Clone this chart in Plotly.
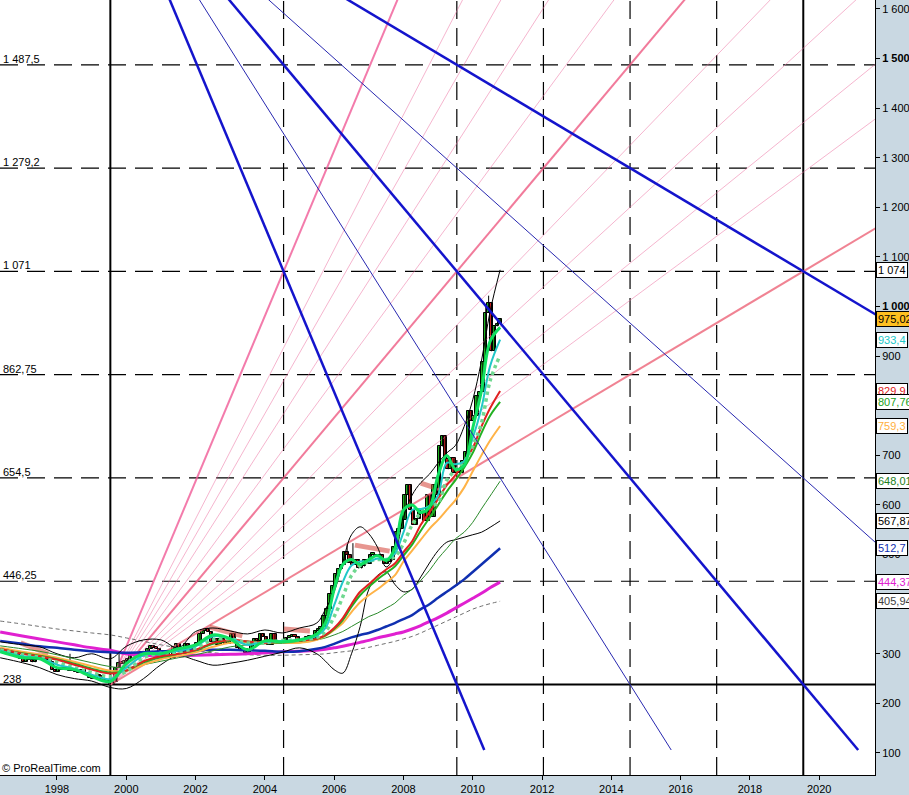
import plotly.graph_objects as go

# ---------------- data ----------------
START_YEAR, START_MONTH = 1996, 5
FIRST_OPEN = 308
CLOSES = [
    306, 302, 304, 300, 298, 300, 296, 290,
    284, 292, 288, 283, 288, 292, 296, 290, 288, 284, 268, 264,
    272, 268, 270, 268, 266, 270, 264, 262, 268, 262, 258, 252,
    250, 254, 256, 250, 246, 244, 240, 244, 272, 282, 280, 286,
    290, 302, 296, 300, 298, 304, 300, 310, 316, 312, 310, 294,
    298, 300, 294, 292, 314, 320, 312, 300, 320, 316, 310, 316,
    322, 340, 346, 350, 344, 324, 330, 318, 330, 322, 320, 328,
    340, 326, 312, 306, 310, 302, 308, 324, 330, 326, 340, 334,
    322, 318, 340, 324, 320, 322, 322, 332, 334, 336, 334, 322,
    326, 330, 330, 336, 328, 345, 350, 354, 376, 390, 420, 436,
    460, 470, 480, 505, 500, 484, 480, 490, 472, 476, 490, 482,
    500, 500, 496, 500, 490, 482, 486, 490, 516, 545, 552, 570,
    620, 640, 590, 560, 572, 592, 588, 568, 620, 576, 640, 620,
    718, 740, 692, 672, 694, 664, 670, 664, 688, 706, 790, 770,
    780, 820, 828, 888, 988, 1008, 910, 960, 965, 975.02,
]
# a few visible wick extremes (month index -> value)
WICK_HIGH = {24: 300, 41: 300, 120: 520, 122: 523, 153: 650, 165: 765, 169: 1022, 168: 1000}
WICK_LOW = {38: 238}

MA_T = [1996.36, 1997.0, 1997.5, 1998.0, 1998.5, 1999.0, 1999.54, 2000.0, 2000.5, 2001.0,
        2001.5, 2002.0, 2002.5, 2003.0, 2003.5, 2004.0, 2004.5, 2005.0, 2005.5, 2005.75,
        2006.0, 2006.25, 2006.5, 2006.75, 2007.0, 2007.25, 2007.5, 2007.75, 2008.0, 2008.25,
        2008.5, 2008.75, 2009.0, 2009.25, 2009.5, 2009.75, 2010.0, 2010.25, 2010.5, 2010.79]

MA_FAST = [304, 292, 290, 272, 268, 254, 244, 280, 300, 300, 310, 318, 338, 330, 308, 326, 324, 328, 340, 362,
           430, 480, 490, 480, 490, 498, 488, 512, 590, 600, 585, 595, 660, 700, 672, 680, 755, 830, 930, 958]
MA_CYAN = [306, 295, 291, 278, 270, 258, 249, 272, 297, 302, 306, 315, 335, 331, 318, 324, 326, 328, 336, 352,
           398, 445, 478, 486, 486, 492, 490, 502, 545, 590, 592, 598, 620, 685, 682, 688, 735, 795, 880, 933.4]
MA_DOTS = [308, 298, 293, 283, 272, 262, 254, 264, 292, 301, 304, 312, 328, 330, 322, 322, 327, 328, 333, 345,
           375, 415, 458, 478, 486, 490, 490, 496, 522, 560, 584, 596, 605, 650, 670, 686, 720, 765, 850, 902]
MA_RED = [310, 300, 295, 288, 278, 268, 260, 266, 285, 295, 300, 308, 322, 328, 325, 322, 325, 327, 330, 338,
          352, 372, 400, 425, 440, 456, 470, 482, 505, 527, 560, 585, 612, 640, 660, 688, 715, 758, 795, 829.9]
MA_GREEN = [309, 301, 296, 289, 280, 270, 262, 266, 283, 293, 300, 307, 320, 327, 325, 323, 324, 326, 330, 337,
            350, 368, 395, 418, 435, 450, 463, 476, 498, 520, 548, 574, 600, 627, 650, 675, 705, 745, 780, 807.76]
MA_ORANGE = [312, 304, 299, 292, 284, 275, 266, 266, 278, 289, 296, 303, 314, 322, 323, 322, 323, 322, 328, 336,
             348, 362, 384, 404, 418, 430, 444, 458, 486, 508, 530, 552, 570, 590, 610, 635, 668, 700, 730, 759.3]
MA_THIN = [316, 310, 305, 298, 290, 282, 274, 272, 278, 285, 292, 298, 306, 314, 318, 320, 321, 322, 328, 332,
           338, 345, 355, 365, 375, 382, 392, 402, 418, 430, 448, 468, 492, 512, 532, 545, 565, 592, 618, 648.01]
MA_BLUE = [326, 320, 315, 312, 308, 305, 303, 302, 303, 305, 306, 307, 308, 308, 307, 306, 304, 305, 310, 314,
           320, 327, 333, 338, 342, 348, 355, 362, 370, 378, 390, 400, 413, 425, 437, 450, 465, 480, 495, 512.7]
MA_MAGENTA = [344, 336, 330, 324, 318, 312, 307, 300, 297, 296, 296, 297, 298, 299, 300, 302, 304, 305, 307, 309,
              312, 315, 319, 323, 327, 332, 336, 340, 344, 350, 357, 365, 373, 382, 392, 402, 412, 422, 433, 444.37]
MA_GREY = [366, 360, 355, 350, 346, 342, 338, 332, 325, 318, 312, 306, 302, 300, 298, 297, 297, 298, 299, 300,
           302, 304, 306, 310, 313, 317, 321, 325, 330, 335, 342, 350, 358, 366, 374, 382, 390, 396, 401, 405.94]
BAND_UP = [324, 318, 314, 300, 292, 300, 290, 315, 328, 328, 312, 345, 352, 346, 340, 348, 342, 352, 362, 390,
           425, 485, 540, 556, 542, 515, 475, 500, 575, 620, 645, 662, 685, 705, 720, 758, 812, 890, 990, 1074]
BAND_LO = [292, 282, 272, 258, 250, 245, 232, 230, 250, 278, 296, 287, 277, 281, 287, 295, 303, 312, 300, 285,
           268, 261, 300, 355, 430, 458, 465, 440, 425, 430, 455, 483, 508, 525, 530, 535, 540, 545, 555, 567.87]

SEG_T0 = [1996.95, 2002.4, 2004.55, 2006.6, 2008.5]
SEG_T1 = [1997.75, 2003.35, 2005.3, 2007.6, 2008.85]
SEG_V0 = [322, 354, 350, 519, 644]
SEG_V1 = [300, 336, 346, 507, 636]

# Gann construction
GANN_T0 = 1999.54
TIME_UNIT = 2.5
GANN_LOW = 238
PRICE_UNIT = 208.25
LEVEL_STEPS = [0, 1, 2, 3, 4, 5, 6]
LEVEL_LABELS = ["238", "446,25", "654,5", "862,75", "1 071", "1 279,2", "1 487,5"]
VLINE_UNITS = [0, 2, 4, 5, 6, 7, 8]
VLINE_SOLID = [True, False, False, False, False, False, True]
FAN_THICK = [2.0, 1.0, 0.5]
FAN_THIN = [1.63, 1.47, 1.31, 1.14, 0.87, 0.77, 0.68, 0.62]
BLUE_THICK = [(4, 0, -2.0), (8, 0, -1.0), (8, 4, -0.5)]
BLUE_THIN = [(6, 0, -4 / 3), (8, 2, -0.75)]
BLUE_END = 106

VALUE_LEVELS = [1074, 975.02, 933.4, 829.9, 807.76, 759.3, 648.01, 567.87, 512.7, 444.37, 405.94]
VALUE_TEXT = ["1 074", "975,02", "933,4", "829,9", "807,76", "759,3", "648,01", "567,87", "512,7", "444,37", "405,94"]
VALUE_FONT = ["#000000", "#000000", "#20c8c8", "#e02020", "#20a020", "#ffb040", "#208020", "#000000",
              "#1030b0", "#e020d0", "#404040"]
VALUE_BG = ["#ffffff", "#ffc020", "#ffffff", "#ffffff", "#ffffff", "#ffffff", "#ffffff", "#ffffff",
            "#ffffff", "#ffffff", "#ffffff"]

Y_TICKS = [100, 200, 300, 400, 500, 600, 700, 800, 900, 1000, 1100, 1200, 1300, 1400, 1500, 1600]
Y_TICK_TEXT = ["100", "200", "300", "400", "500", "600", "700", "800", "900", "<b>1 000</b>", "1 100",
               "1 200", "1 300", "1 400", "<b>1 500</b>", "1 600"]
X_TICKS = [1998, 2000, 2002, 2004, 2006, 2008, 2010, 2012, 2014, 2016, 2018, 2020]

X_RANGE = [1996.355, 2021.61]
Y_RANGE = [55.6, 1618.1]

FONT = "Liberation Sans, Arial, sans-serif"
PANEL = "#c9d8e2"

# ---------------- figure ----------------
fig = go.Figure()

shapes = []
for k in LEVEL_STEPS:
    lvl = GANN_LOW + k * PRICE_UNIT
    ln = dict(color="black", width=2) if k == 0 else dict(color="black", width=1.2, dash="18px,9px")
    shapes.append(dict(type="line", xref="paper", x0=0, x1=1, yref="y", y0=lvl, y1=lvl,
                       line=ln, layer="below"))
for u, solid in zip(VLINE_UNITS, VLINE_SOLID):
    t = GANN_T0 + u * TIME_UNIT
    ln = dict(color="black", width=2) if solid else dict(color="black", width=1.2, dash="18px,9px")
    shapes.append(dict(type="line", xref="x", x0=t, x1=t, yref="paper", y0=0, y1=1, line=ln, layer="below"))

x_far = X_RANGE[1] + 1

# pink fan
for r in FAN_THIN:
    s = r * PRICE_UNIT / TIME_UNIT
    fig.add_trace(go.Scatter(x=[GANN_T0, x_far], y=[GANN_LOW, GANN_LOW + s * (x_far - GANN_T0)],
                             mode="lines", line=dict(color="rgba(236,120,165,0.55)", width=1),
                             hoverinfo="skip", showlegend=False))
for r, col in zip(FAN_THICK, ["rgba(240,90,150,0.8)", "rgba(238,90,130,0.8)", "rgba(236,100,120,0.8)"]):
    s = r * PRICE_UNIT / TIME_UNIT
    fig.add_trace(go.Scatter(x=[GANN_T0, x_far], y=[GANN_LOW, GANN_LOW + s * (x_far - GANN_T0)],
                             mode="lines", line=dict(color=col, width=2),
                             hoverinfo="skip", showlegend=False))

# candles (wick + body bars on the numeric time axis)
months = []
yy, mm = START_YEAR, START_MONTH
for _ in CLOSES:
    months.append(yy + (mm - 0.5) / 12)
    mm += 1
    if mm > 12:
        mm = 1
        yy += 1
opens = [FIRST_OPEN] + CLOSES[:-1]
highs = [max(o, c, WICK_HIGH.get(i, 0)) for i, (o, c) in enumerate(zip(opens, CLOSES))]
lows = [min(o, c, WICK_LOW.get(i, 1e9)) for i, (o, c) in enumerate(zip(opens, CLOSES))]

for t0, t1, v0, v1 in zip(SEG_T0, SEG_T1, SEG_V0, SEG_V1):
    fig.add_trace(go.Scatter(x=[t0, t1], y=[v0, v1], mode="lines",
                             line=dict(color="rgba(215,80,70,0.6)", width=5),
                             hoverinfo="skip", showlegend=False))

wx, wy = [], []
for x, h, l in zip(months, highs, lows):
    wx += [x, x, None]
    wy += [l, h, None]
fig.add_trace(go.Scatter(x=wx, y=wy, mode="lines", line=dict(color="black", width=1),
                         hoverinfo="skip", showlegend=False))
body_base = [min(o, c) for o, c in zip(opens, CLOSES)]
body_h = [max(abs(c - o), 3) for o, c in zip(opens, CLOSES)]
body_col = ["#1fb01f" if c >= o else "#c82020" for o, c in zip(opens, CLOSES)]
fig.add_trace(go.Bar(x=months, y=body_h, base=body_base, width=0.1,
                     marker=dict(color=body_col, line=dict(color="black", width=1)),
                     hoverinfo="skip", showlegend=False))

def ma(vals, color, width, dash=None):
    ln = dict(color=color, width=width)
    if dash:
        ln["dash"] = dash
    fig.add_trace(go.Scatter(x=MA_T, y=vals, mode="lines", line=ln, line_shape="spline",
                             hoverinfo="skip", showlegend=False))

ma(MA_GREY, "#707070", 1, "4px,3px")
ma(MA_MAGENTA, "#e020d0", 3)
ma(MA_BLUE, "#1030b0", 2.5)
ma(BAND_LO, "#000000", 1)
ma(BAND_UP, "#000000", 1)
ma(MA_THIN, "#2a8a2a", 1)
ma(MA_ORANGE, "#ffb347", 2)
ma(MA_GREEN, "#22b022", 2)
ma(MA_RED, "#e02020", 2)
ma(MA_DOTS, "#70d890", 3.5, "dot")
ma(MA_CYAN, "#20c8c8", 2)
ma(MA_FAST, "#10e060", 3)

def blue(defs, width, color):
    for ta, pa, r in defs:
        s = r * PRICE_UNIT / TIME_UNIT
        ta_t = GANN_T0 + ta * TIME_UNIT
        pa_p = GANN_LOW + pa * PRICE_UNIT
        x_s = ta_t + (Y_RANGE[1] + 100 - pa_p) / s
        x_e = min(ta_t + (BLUE_END - pa_p) / s, x_far)
        fig.add_trace(go.Scatter(x=[x_s, x_e], y=[pa_p + s * (x_s - ta_t), pa_p + s * (x_e - ta_t)],
                                 mode="lines", line=dict(color=color, width=width),
                                 hoverinfo="skip", showlegend=False))

blue(BLUE_THIN, 1, "#2828b0")
blue(BLUE_THICK, 2.5, "#1414cc")

annots = []
for k, lab in zip(LEVEL_STEPS, LEVEL_LABELS):
    annots.append(dict(xref="paper", x=0, xanchor="left", yref="y", y=GANN_LOW + k * PRICE_UNIT,
                       yanchor="bottom", text=lab, showarrow=False, xshift=1, yshift=-2,
                       font=dict(family=FONT, size=11, color="black")))
annots.append(dict(xref="paper", x=0, xanchor="left", yref="paper", y=0, yanchor="bottom",
                   text="© ProRealTime.com", showarrow=False, xshift=0, yshift=-1,
                   font=dict(family=FONT, size=11, color="black")))
for v, t, fc, bg in zip(VALUE_LEVELS, VALUE_TEXT, VALUE_FONT, VALUE_BG):
    annots.append(dict(xref="paper", x=1, xanchor="left", yref="y", y=v, yanchor="middle",
                       text=t, showarrow=False, xshift=1, bgcolor=bg, bordercolor="black",
                       borderwidth=1, borderpad=1, font=dict(family=FONT, size=11, color=fc)))

fig.update_layout(
    width=909, height=795,
    margin=dict(l=0, r=34, t=0, b=20, pad=0),
    paper_bgcolor=PANEL, plot_bgcolor="white",
    font=dict(family=FONT, size=11, color="black"),
    hovermode=False, showlegend=False, bargap=0,
    shapes=shapes, annotations=annots,
    xaxis=dict(range=X_RANGE, tickmode="array", tickvals=X_TICKS, ticktext=[str(v) for v in X_TICKS],
               ticks="outside", ticklen=4, tickcolor="black", showgrid=False, zeroline=False,
               showline=True, linecolor="black", linewidth=1,
               tickfont=dict(family=FONT, size=11, color="black")),
    yaxis=dict(range=Y_RANGE, side="right", tickmode="array", tickvals=Y_TICKS, ticktext=Y_TICK_TEXT,
               ticks="outside", ticklen=4, tickcolor="black", showgrid=False, zeroline=False,
               showline=True, linecolor="black", linewidth=1,
               tickfont=dict(family=FONT, size=11, color="black")),
)

fig.write_html("out.html", config={"displayModeBar": False},
               post_script="document.body.style.margin='0';document.body.style.padding='0';")
